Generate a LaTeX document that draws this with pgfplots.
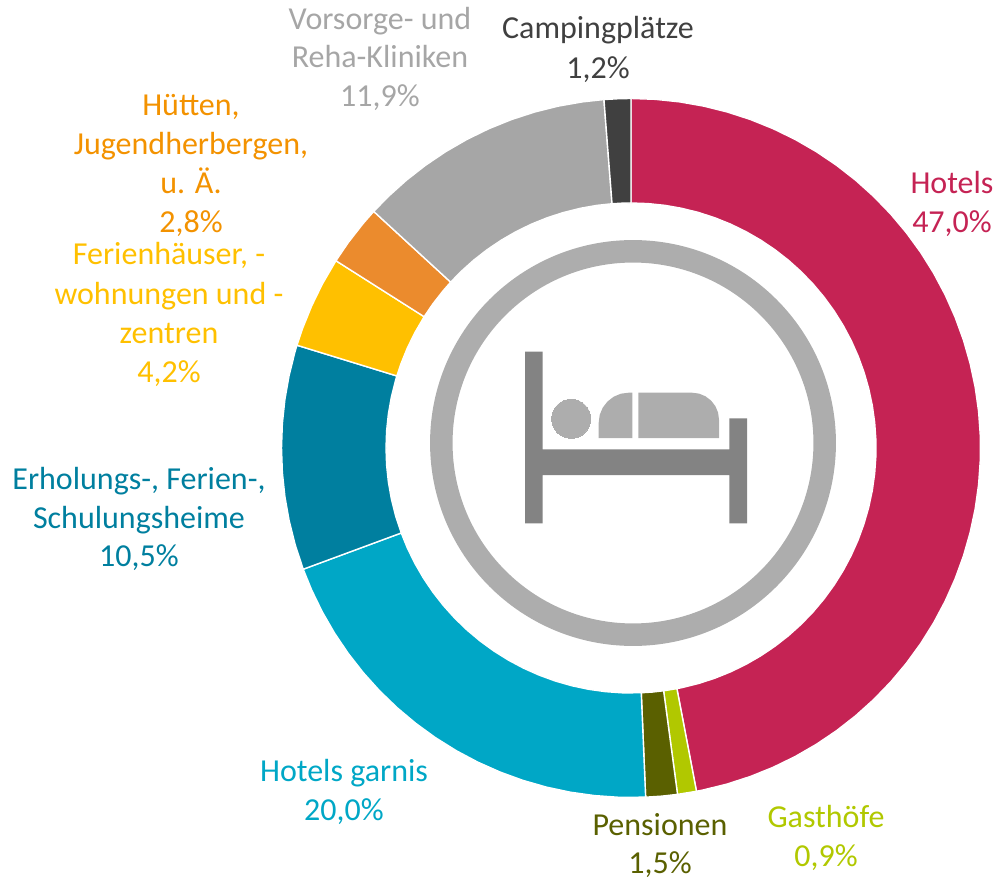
\documentclass[border=0pt]{standalone}
\usepackage{pgfplots}
\pgfplotsset{compat=1.18}
\usepackage{fontspec}
\setmainfont{Carlito}
\definecolor{cHotels}{HTML}{C52354}
\definecolor{cGast}{HTML}{B1C800}
\definecolor{cPens}{HTML}{5A6000}
\definecolor{cGarni}{HTML}{00A7C6}
\definecolor{cErh}{HTML}{007F9F}
\definecolor{cFer}{HTML}{FFC000}
\definecolor{cHut}{HTML}{EB8B2D}
\definecolor{cHutT}{HTML}{F39200}
\definecolor{cVor}{HTML}{A6A6A6}
\definecolor{cCamp}{HTML}{404040}
\definecolor{bedD}{HTML}{838383}
\definecolor{bedL}{HTML}{ADADAD}
\newcommand{\lab}[4]{\node[anchor=base,text=#3,inner sep=0pt] at (axis cs:#1,#2) {\fontsize{32}{39}\selectfont #4};}
\begin{document}
\begin{tikzpicture}
\useasboundingbox (0,0) rectangle (998pt,877pt);
% ring: shares 47.0 0.9 1.5 20.0 10.5 4.2 2.8 11.9 1.2 %, clockwise from 12 o'clock; (angle,radius)
\begin{axis}[scale only axis,width=998pt,height=877pt,hide axis,clip=false,
  xmin=-631,xmax=367,ymin=-429,ymax=448,
  every axis plot/.append style={data cs=polar,draw=white,line width=1.4pt,mark=none,line join=round}]
\addplot[fill=cHotels] coordinates {(90,349.5)(86,349.5)(82,349.5)(78,349.5)(74,349.5)(70,349.5)(66,349.5)(62,349.5)(58,349.5)(54,349.5)(50,349.5)(46,349.5)(42,349.5)(38,349.5)(34,349.5)(30,349.5)(26,349.5)(22,349.5)(18,349.5)(14,349.5)(10,349.5)(6,349.5)(2,349.5)(-2,349.5)(-6,349.5)(-10,349.5)(-14,349.5)(-18,349.5)(-22,349.5)(-26,349.5)(-30,349.5)(-34,349.5)(-38,349.5)(-42,349.5)(-46,349.5)(-50,349.5)(-54,349.5)(-58,349.5)(-62,349.5)(-66,349.5)(-70,349.5)(-74,349.5)(-78,349.5)(-79.2,349.5)
(-79.2,245)(-78,245)(-74,245)(-70,245)(-66,245)(-62,245)(-58,245)(-54,245)(-50,245)(-46,245)(-42,245)(-38,245)(-34,245)(-30,245)(-26,245)(-22,245)(-18,245)(-14,245)(-10,245)(-6,245)(-2,245)(2,245)(6,245)(10,245)(14,245)(18,245)(22,245)(26,245)(30,245)(34,245)(38,245)(42,245)(46,245)(50,245)(54,245)(58,245)(62,245)(66,245)(70,245)(74,245)(78,245)(82,245)(86,245)(90,245)} --cycle;
\addplot[fill=cGast] coordinates {(-79.2,349.5)(-82.35,349.5)(-82.35,245)(-79.2,245)} --cycle;
\addplot[fill=cPens] coordinates {(-82.35,349.5)(-85,349.5)(-87.6,349.5)(-87.6,245)(-85,245)(-82.35,245)} --cycle;
\addplot[fill=cGarni] coordinates {(-87.6,349.5)(-92,349.5)(-96,349.5)(-100,349.5)(-104,349.5)(-108,349.5)(-112,349.5)(-116,349.5)(-120,349.5)(-124,349.5)(-128,349.5)(-132,349.5)(-136,349.5)(-140,349.5)(-144,349.5)(-148,349.5)(-152,349.5)(-156,349.5)(-159.7,349.5)
(-159.7,245)(-156,245)(-152,245)(-148,245)(-144,245)(-140,245)(-136,245)(-132,245)(-128,245)(-124,245)(-120,245)(-116,245)(-112,245)(-108,245)(-104,245)(-100,245)(-96,245)(-92,245)(-87.6,245)} --cycle;
\addplot[fill=cErh] coordinates {(-159.7,349.5)(-164,349.5)(-168,349.5)(-172,349.5)(-176,349.5)(-180,349.5)(-184,349.5)(-188,349.5)(-192,349.5)(-196,349.5)(-197.1,349.5)
(-197.1,245)(-196,245)(-192,245)(-188,245)(-184,245)(-180,245)(-176,245)(-172,245)(-168,245)(-164,245)(-159.7,245)} --cycle;
\addplot[fill=cFer] coordinates {(-197.1,349.5)(-200,349.5)(-204,349.5)(-208,349.5)(-212.4,349.5)(-212.4,245)(-208,245)(-204,245)(-200,245)(-197.1,245)} --cycle;
\addplot[fill=cHut] coordinates {(-212.4,349.5)(-216,349.5)(-220,349.5)(-222.6,349.5)(-222.6,245)(-220,245)(-216,245)(-212.4,245)} --cycle;
\addplot[fill=cVor] coordinates {(-222.6,349.5)(-226,349.5)(-230,349.5)(-234,349.5)(-238,349.5)(-242,349.5)(-246,349.5)(-250,349.5)(-254,349.5)(-258,349.5)(-262,349.5)(-265.56,349.5)
(-265.56,245)(-262,245)(-258,245)(-254,245)(-250,245)(-246,245)(-242,245)(-238,245)(-234,245)(-230,245)(-226,245)(-222.6,245)} --cycle;
\addplot[fill=cCamp] coordinates {(-265.56,349.5)(-268,349.5)(-270,349.5)(-270,245)(-268,245)(-265.56,245)} --cycle;
\end{axis}
% icon and labels, in the reference's pixel coordinates
\begin{axis}[scale only axis,width=998pt,height=877pt,hide axis,clip=false,
  xmin=0,xmax=998,ymin=0,ymax=877,y dir=reverse]
\addplot[only marks,mark=o,mark size=191.7pt,mark options={draw=bedL,line width=22.5pt}] coordinates {(633,443)};
\addplot[only marks,mark=*,mark size=19.5pt,mark options={fill=bedL,draw=bedL,line width=0pt}] coordinates {(571.2,418.8)};
\addplot[fill=bedD,draw=none] coordinates {(525,351.7)(542.7,351.7)(542.7,449.3)(729.3,449.3)(729.3,418.3)(747,418.3)(747,523.3)(729.3,523.3)(729.3,475)(542.7,475)(542.7,523.3)(525,523.3)} --cycle;
\addplot[fill=bedL,draw=none] coordinates {(598.7,438)(598.7,422.7)(599.7,414.9)(602.7,407.7)(607.5,401.5)(613.7,396.7)(620.9,393.7)(628.7,392.7)(632.3,392.7)(632.3,438)} --cycle;
\addplot[fill=bedL,draw=none] coordinates {(638.3,438)(638.3,392.7)(692,392.7)(699,393.6)(705.5,396.3)(711.1,400.6)(715.4,406.2)(718.1,412.7)(719,419.7)(719,438)} --cycle;
\lab{952}{194}{cHotels}{Hotels}
\lab{952}{233}{cHotels}{47,0\%}
\lab{380}{29.3}{cVor}{Vorsorge- und}
\lab{380}{68}{cVor}{Reha-Kliniken}
\lab{380}{107}{cVor}{11,9\%}
\lab{598}{39}{cCamp}{Campingplätze}
\lab{598}{78.3}{cCamp}{1,2\%}
\lab{191}{115.7}{cHutT}{Hütten,}
\lab{191}{154.7}{cHutT}{Jugendherbergen,}
\lab{191}{194}{cHutT}{u. Ä.}
\lab{191}{232.3}{cHutT}{2,8\%}
\lab{169}{265}{cFer}{Ferienhäuser, -}
\lab{169}{304}{cFer}{wohnungen und -}
\lab{169}{343.3}{cFer}{zentren}
\lab{169}{382.3}{cFer}{4,2\%}
\lab{139}{489}{cErh}{Erholungs-, Ferien-,}
\lab{139}{528}{cErh}{Schulungsheime}
\lab{139}{566.7}{cErh}{10,5\%}
\lab{344}{781}{cGarni}{Hotels garnis}
\lab{344}{820}{cGarni}{20,0\%}
\lab{660}{835}{cPens}{Pensionen}
\lab{660}{873.5}{cPens}{1,5\%}
\lab{826}{827}{cGast}{Gasthöfe}
\lab{826}{866}{cGast}{0,9\%}
\end{axis}
\end{tikzpicture}
\end{document}
